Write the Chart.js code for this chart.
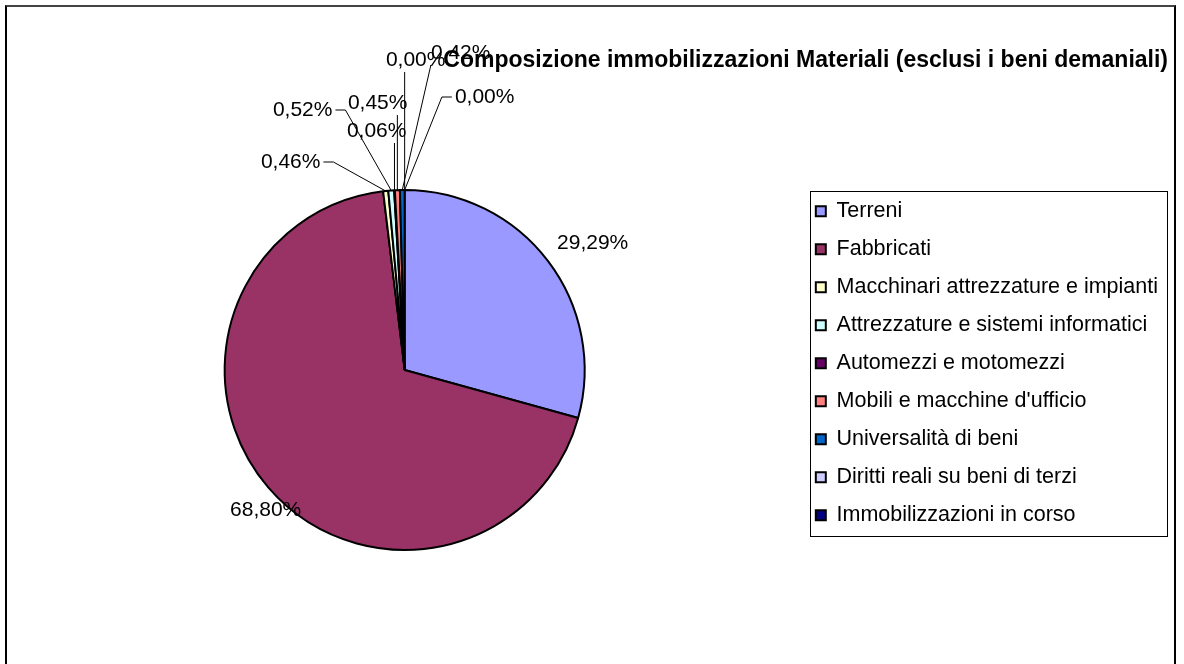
<!DOCTYPE html>
<html>
<head>
<meta charset="utf-8">
<script src="https://cdn.jsdelivr.net/npm/chart.js@4"></script>
<style>
  html, body { margin: 0; padding: 0; background: #fff; overflow: hidden; }
  #frame {
    position: absolute; left: 5px; top: 5px; width: 1167px; height: 720px;
    border-left: 2px solid #000; border-right: 2px solid #000; border-top: 2px solid #444;
  }
  #wrap { position: absolute; left: 0; top: 0; width: 1184px; height: 664px; }
</style>
</head>
<body>
<div id="frame"></div>
<div id="wrap"><canvas id="pieChart"></canvas></div>
<script>
const categories = [
  'Terreni',
  'Fabbricati',
  'Macchinari attrezzature e impianti',
  'Attrezzature e sistemi informatici',
  'Automezzi e motomezzi',
  "Mobili e macchine d'ufficio",
  'Universalità di beni',
  'Diritti reali su beni di terzi',
  'Immobilizzazioni in corso'
];
const shares = [29.29, 68.80, 0.46, 0.52, 0.06, 0.45, 0.42, 0.00, 0.00];
const sliceColors = ['#9999FF', '#993366', '#FFFFCC', '#CCFFFF', '#660066', '#FF8080', '#0066CC', '#CCCCFF', '#000080'];

// label centre offsets from the pie centre, and how the leader line attaches
const labelOffsets = [[188, -127], [-139, 140], [-114, -208], [-102, -260], [-28, -239], [-27, -267], [56, -317], [11, -310], [80, -273]];
const leaderStyle = [null, null, 'r', 'r', 'b', 'b', 'b', 'b', 'l'];

Chart.defaults.font.family = '"Liberation Sans", Arial, sans-serif';
Chart.defaults.color = '#000';

const fmt = v => v.toFixed(2).replace('.', ',') + '%';

const pieLabels = {
  id: 'pieLabels',
  afterDatasetsDraw(chart) {
    const ctx = chart.ctx;
    const meta = chart.getDatasetMeta(0);
    ctx.save();
    ctx.font = '21px "Liberation Sans", Arial, sans-serif';
    ctx.fillStyle = '#000';
    ctx.strokeStyle = '#000';
    ctx.lineWidth = 1;
    ctx.textAlign = 'center';
    ctx.textBaseline = 'middle';
    meta.data.forEach((arc, i) => {
      const p = arc.getProps(['x', 'y', 'startAngle', 'endAngle', 'outerRadius'], true);
      const mid = (p.startAngle + p.endAngle) / 2;
      const ax = p.x + Math.cos(mid) * p.outerRadius;
      const ay = p.y + Math.sin(mid) * p.outerRadius;
      const text = fmt(shares[i]);
      const cx = p.x + labelOffsets[i][0];
      const cy = p.y + labelOffsets[i][1];
      const hw = ctx.measureText(text).width / 2;
      const style = leaderStyle[i];
      if (style) {
        ctx.beginPath();
        if (style === 'r') {
          ctx.moveTo(cx + hw + 3, cy);
          ctx.lineTo(cx + hw + 13, cy);
          ctx.lineTo(ax, ay);
        } else if (style === 'l') {
          ctx.moveTo(cx - hw - 3, cy);
          ctx.lineTo(cx - hw - 13, cy);
          ctx.lineTo(ax, ay);
        } else {
          const bx = Math.min(Math.max(ax, cx - hw), cx + hw);
          ctx.moveTo(bx, cy + 12);
          ctx.lineTo(ax, ay);
        }
        ctx.stroke();
      }
      ctx.fillText(text, cx, cy);
    });
    ctx.restore();
  }
};

const legendBox = {
  id: 'legendBox',
  afterDraw(chart) {
    const boxes = chart.legend.legendHitBoxes;
    if (!boxes || !boxes.length) return;
    let l = Infinity, t = Infinity, r = -Infinity, b = -Infinity;
    boxes.forEach(h => {
      l = Math.min(l, h.left); t = Math.min(t, h.top);
      r = Math.max(r, h.left + h.width); b = Math.max(b, h.top + h.height);
    });
    const ctx = chart.ctx;
    ctx.save();
    ctx.strokeStyle = '#000';
    ctx.lineWidth = 1;
    ctx.strokeRect(Math.round(l - 6) + 0.5, Math.round(t - 10) + 0.5, Math.round(r - l + 15), Math.round(b - t + 19));
    ctx.restore();
  }
};

const pieChart = new Chart(document.getElementById('pieChart').getContext('2d'), {
  type: 'pie',
  data: {
    labels: categories,
    datasets: [{
      data: shares,
      backgroundColor: sliceColors,
      borderColor: '#000',
      borderWidth: 2
    }]
  },
  options: {
    responsive: true,
    maintainAspectRatio: false,
    animation: false,
    radius: 180,
    layout: {
      padding: { top: 30, left: 10, right: 16, bottom: 108 }
    },
    plugins: {
      title: {
        display: true,
        text: 'Composizione immobilizzazioni Materiali (esclusi i beni demaniali)',
        align: 'end',
        font: { size: 23, weight: 'bold' },
        padding: { top: 17, bottom: 109.4 }
      },
      legend: {
        position: 'right',
        fullSize: false,
        align: 'start',
        labels: {
          boxWidth: 10,
          boxHeight: 10,
          padding: 16.5,
          font: { size: 21.5 }
        }
      },
      tooltip: { enabled: false }
    }
  },
  plugins: [pieLabels, legendBox]
});
</script>
</body>
</html>
